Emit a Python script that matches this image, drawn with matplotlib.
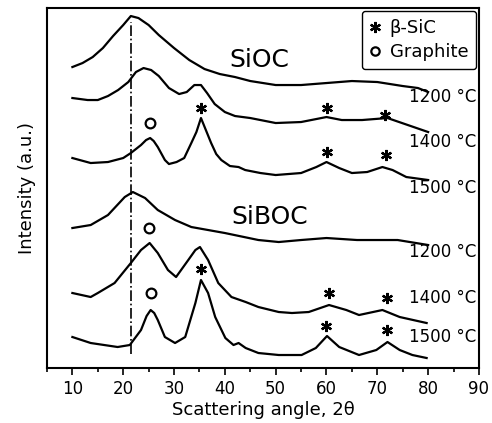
import matplotlib
matplotlib.use("Agg")
import matplotlib.pyplot as plt
from matplotlib.lines import Line2D
from matplotlib.ticker import MultipleLocator

# XRD patterns, intensities in arbitrary (stacked) units
sioc_1200_x = [10, 12, 14, 16, 18, 20, 21.5, 23, 25, 27, 30, 33, 36, 39, 42, 45, 50, 55, 60, 65, 70, 75, 78, 80]
sioc_1200_y = [301, 305, 311, 320, 332, 343, 352, 350, 343, 333, 320, 308, 299, 294, 291, 287, 283, 283, 285, 287, 286, 282, 280, 276]

sioc_1400_x = [10, 13, 15, 17, 19, 21, 22.5, 24, 25.5, 27, 29, 31, 32.5, 34, 35.3, 36.5, 38, 40, 42, 45, 50, 55, 60, 63, 67, 72, 76, 80]
sioc_1400_y = [270, 268, 268, 272, 278, 286, 296, 300, 298, 292, 280, 274, 276, 283, 283, 275, 264, 256, 252, 250, 245, 246, 251, 248, 248, 250, 243, 236]

sioc_1500_x = [10, 13.6, 17, 20, 21.5, 23.5, 24.5, 25.3, 26, 26.8, 28.2, 29, 30.5, 32, 33.4, 34.4, 35.3, 36.1, 37.3, 38.3, 39.3, 41, 42.7, 44, 47, 50, 55, 58, 60, 62.5, 65, 68, 71, 73, 75.7, 80]
sioc_1500_y = [210, 205, 206, 210, 215, 223, 228, 230, 227, 221, 208, 204, 206, 210, 225, 236, 250, 240, 225, 214, 208, 202, 201, 198, 195, 193, 195, 201, 206, 200, 195, 196, 201, 198, 191, 188]

siboc_1200_x = [10, 13.6, 17, 20.3, 21.9, 24.3, 26.8, 30.2, 33.4, 40, 46.6, 50.6, 55, 60, 66, 74, 80]
siboc_1200_y = [140, 143, 153, 171, 176, 170, 158, 148, 141, 135, 128, 126, 128, 130, 128, 128, 123]

siboc_1400_x = [10, 13.6, 15, 18.3, 21.5, 23.5, 25.2, 26.8, 28.8, 30.4, 32.8, 34.2, 35.1, 36.7, 38.7, 41.3, 44.1, 46.6, 50.6, 53.2, 56.5, 60.5, 63.9, 66.4, 71, 74.4, 79.7]
siboc_1400_y = [75, 71, 75, 85, 105, 118, 125, 115, 98, 91, 108, 118, 121, 108, 85, 71, 66, 61, 56, 55, 56, 63, 58, 53, 58, 51, 45]

siboc_1500_x = [10, 13.6, 18.9, 21.3, 23.5, 24.6, 25.4, 26.1, 26.8, 28.2, 30.2, 32.2, 34.2, 35.3, 36.7, 38.1, 40.1, 41.7, 42.7, 44.1, 46.6, 50.6, 55.1, 57.9, 60.1, 62.5, 66.4, 69.8, 72, 74.4, 76.9, 79.7]
siboc_1500_y = [31, 25, 21, 23, 38, 52, 58, 55, 48, 31, 25, 31, 65, 88, 75, 51, 30, 23, 25, 20, 15, 13, 13, 20, 32, 21, 13, 18, 26, 18, 13, 10]

curves = [
    (sioc_1200_x, sioc_1200_y),
    (sioc_1400_x, sioc_1400_y),
    (sioc_1500_x, sioc_1500_y),
    (siboc_1200_x, siboc_1200_y),
    (siboc_1400_x, siboc_1400_y),
    (siboc_1500_x, siboc_1500_y),
]
temp_labels = ["1200 °C", "1400 °C", "1500 °C", "1200 °C", "1400 °C", "1500 °C"]
temp_label_y = [271, 226, 180, 116, 70, 31]

sic_marks_x = [60.1, 71.6, 35.3, 60.1, 71.8, 35.3, 60.5, 72, 60, 72]
sic_marks_y = [260, 253, 260, 216, 213, 99, 75, 70, 42, 38]
graphite_marks_x = [25.2, 25.0, 25.5]
graphite_marks_y = [245, 140, 75]

fig = plt.figure(figsize=(4.92, 4.23), dpi=100)
ax = fig.add_axes([0.0955, 0.130, 0.878, 0.851])

for xs, ys in curves:
    ax.plot(xs, ys, color="black", lw=1.6)

ax.axvline(21.5, ymin=0.04, ymax=0.96, color="black", ls="-.", lw=1.2)

star = (6, 2, 0)
ax.plot(sic_marks_x, sic_marks_y, ls="none", marker=star, ms=8, mew=1.6, color="black")
ax.plot(graphite_marks_x, graphite_marks_y, ls="none", marker="o", ms=7, mew=1.6,
        mfc="none", mec="black")

for label, y in zip(temp_labels, temp_label_y):
    ax.text(89.5, y, label, ha="right", va="center", fontsize=12)

ax.text(40.8, 308, "SiOC", fontsize=18, va="center")
ax.text(41.2, 151, "SiBOC", fontsize=18, va="center")

handles = [
    Line2D([], [], ls="none", marker=star, ms=8, mew=1.6, color="black"),
    Line2D([], [], ls="none", marker="o", ms=6, mew=1.6, mfc="none", mec="black"),
]
leg = ax.legend(handles, ["β-SiC", "Graphite"], loc="upper right", fontsize=13,
                handlelength=0.6, handletextpad=0.5, borderpad=0.45, labelspacing=0.35,
                fancybox=True, framealpha=1, edgecolor="black", borderaxespad=0.15)
leg.get_frame().set_linewidth(1.0)

ax.set_xlim(5, 90)
ax.set_ylim(0, 360)
ax.xaxis.set_major_locator(MultipleLocator(10))
ax.xaxis.set_minor_locator(MultipleLocator(5))
ax.set_xticks(range(10, 91, 10))
ax.set_yticks([])
ax.tick_params(axis="x", which="major", direction="out", length=5, width=1.2, labelsize=12)
ax.tick_params(axis="x", which="minor", direction="out", length=3, width=1.2)
for spine in ax.spines.values():
    spine.set_linewidth(1.5)

ax.set_xlabel("Scattering angle, 2θ", fontsize=13, labelpad=2)
ax.set_ylabel("Intensity (a.u.)", fontsize=13, labelpad=8)

fig.savefig("out.png", dpi=100)
